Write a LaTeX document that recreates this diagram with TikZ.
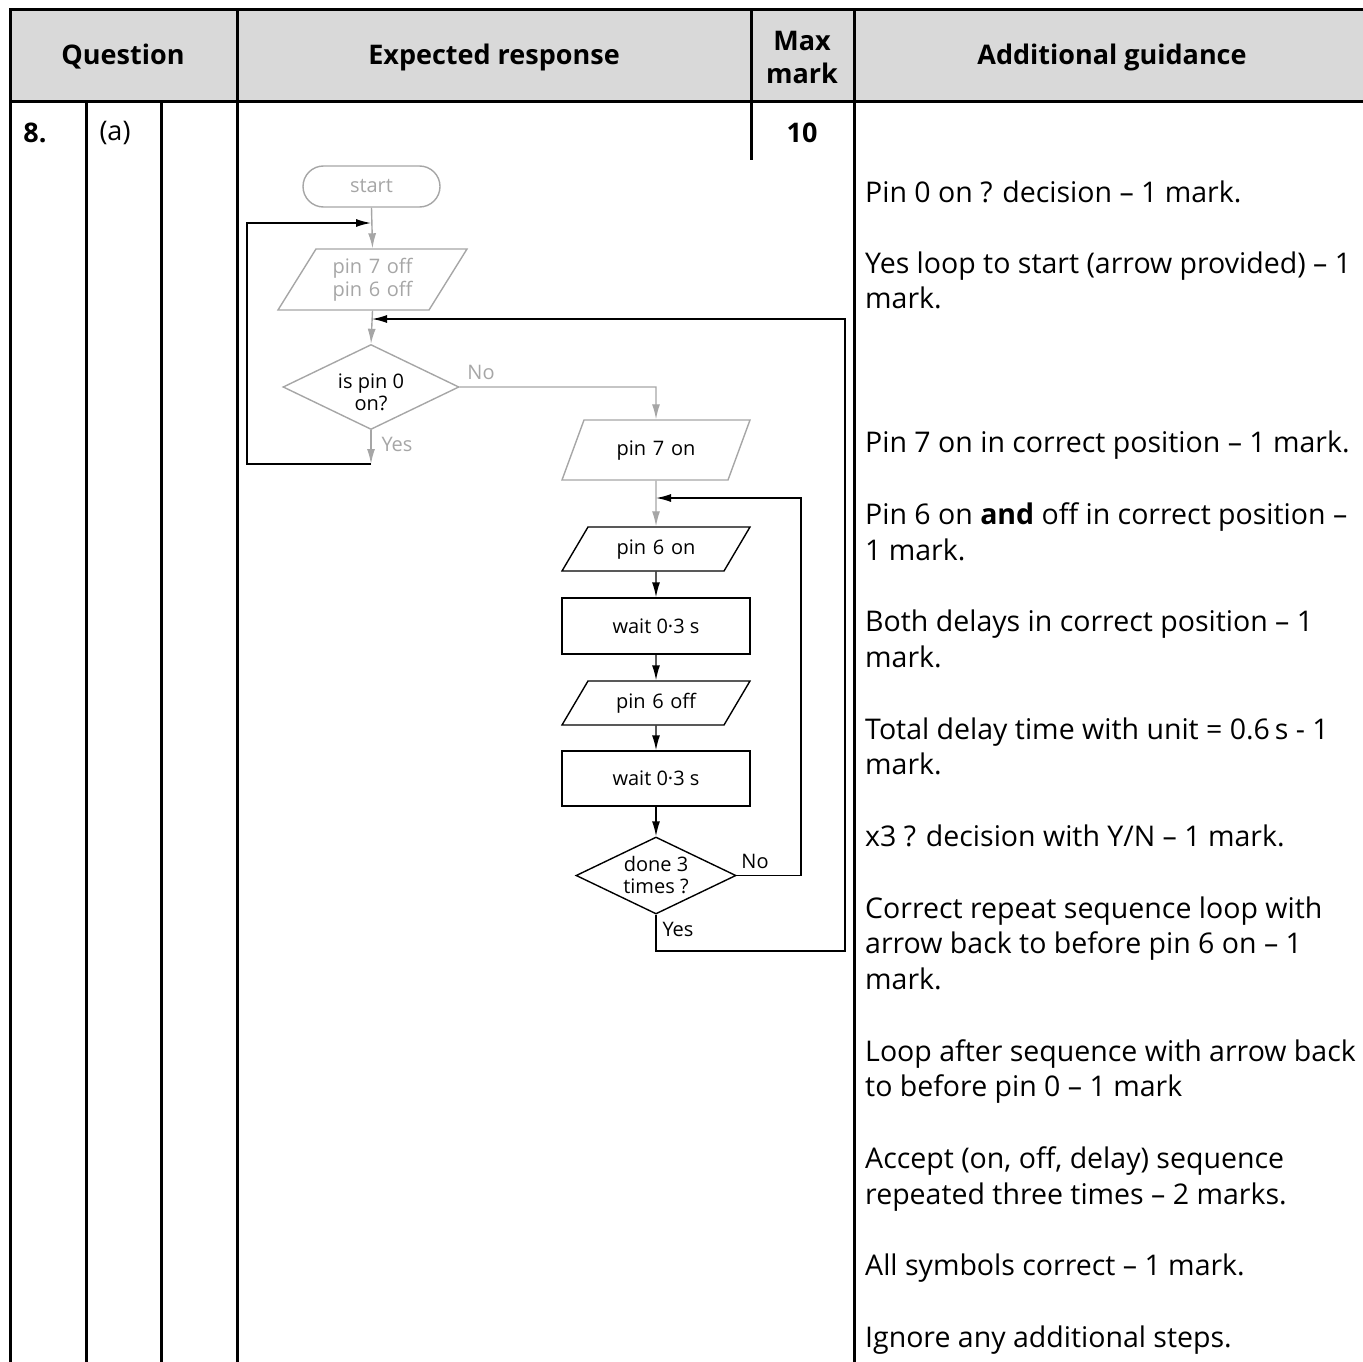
\documentclass[tikz,border=0pt]{standalone}
\usepackage{fontspec}
\setmainfont{Open Sans}
\usetikzlibrary{shapes.geometric,arrows.meta}
\definecolor{hdr}{HTML}{D9D9D9}
\definecolor{fg}{HTML}{A6A6A6}
\begin{document}
\begin{tikzpicture}[x=1pt,y=-1pt,
  tbl/.style={line width=3pt},
  hfont/.style={font=\fontsize{27}{31}\selectfont\bfseries},
  gfont/.style={font=\fontsize{28.5}{33}\selectfont},
  gline/.style={anchor=base west, inner sep=0pt, gfont},
  fcfont/.style={font=\fontsize{20}{22}\selectfont},
  grey/.style={draw=fg, line width=1.4pt},
  blk/.style={draw=black, line width=1.4pt},
  garrow/.style={grey, -{Latex[length=15pt,width=8pt]}},
  barrow/.style={blk, -{Latex[length=15pt,width=8pt]}},
  para/.style={trapezium, inner xsep=0pt, fcfont, align=center, text height=14pt, text depth=4pt},
  dia/.style={diamond, aspect=2.2, inner sep=0pt, fcfont, align=center},
  box/.style={rectangle, inner sep=0pt, fcfont, align=center},
  lbl/.style={inner sep=0pt, fcfont}
]
\useasboundingbox (0,0) rectangle (1363,1362);
% table
\fill[hdr] (10,10) rectangle (1363,102);
\draw[tbl] (10,10) -- (1363,10);
\draw[tbl] (10,102) -- (1363,102);
\draw[tbl] (10,8.5) -- (10,1362);
\draw[tbl] (86,102) -- (86,1362);
\draw[tbl] (161,102) -- (161,1362);
\draw[tbl] (237,8.5) -- (237,1362);
\draw[tbl] (751,8.5) -- (751,160);
\draw[tbl] (854,8.5) -- (854,1362);
\node[hfont] (hq) at (123,57) {Question};
\node[hfont] (he) at (494,57) {Expected response};
\node[hfont, align=center, font=\fontsize{27}{33}\selectfont\bfseries] (hm) at (802,57) {Max\\mark};
\node[hfont] (hg) at (1112,57) {Additional guidance};
\node[hfont] (q8) at (35,133) {8.};
\node[gfont, font=\fontsize{27}{31}\selectfont] (qa) at (115,133) {(a)};
\node[hfont] (mk) at (802,133) {10};
% guidance
\node[gline] (g1) at (865,202) {Pin 0 on ? decision – 1 mark.};
\node[gline] (g2) at (865,273) {Yes loop to start (arrow provided) – 1};
\node[gline] (g3) at (865,308) {mark.};
\node[gline] (g4) at (865,452) {Pin 7 on in correct position – 1 mark.};
\node[gline] (g5) at (865,524) {Pin 6 on \textbf{and} off in correct position –};
\node[gline] (g6) at (865,560) {1 mark.};
\node[gline] (g7) at (865,631) {Both delays in correct position – 1};
\node[gline] (g8) at (865,667) {mark.};
\node[gline] (g9) at (865,739) {Total delay time with unit = 0.6\,s - 1};
\node[gline] (g10) at (865,774) {mark.};
\node[gline] (g11) at (865,846) {x3 ? decision with Y/N – 1 mark.};
\node[gline] (g12) at (865,918) {Correct repeat sequence loop with};
\node[gline] (g13) at (865,953) {arrow back to before pin 6 on – 1};
\node[gline] (g14) at (865,989) {mark.};
\node[gline] (g15) at (865,1061) {Loop after sequence with arrow back};
\node[gline] (g16) at (865,1096) {to before pin 0 – 1 mark};
\node[gline] (g17) at (865,1168) {Accept (on, off, delay) sequence};
\node[gline] (g18) at (865,1204) {repeated three times – 2 marks.};
\node[gline] (g19) at (865,1275) {All symbols correct – 1 mark.};
\node[gline] (g20) at (865,1347) {Ignore any additional steps.};
% flowchart nodes
\node[box, grey, rounded corners=20.5pt, minimum width=137pt, minimum height=41pt, text=fg] (st) at (371.5,186.5) {start};
\node[para, grey, text=fg, trapezium left angle=58.08, trapezium right angle=121.92, text width=113pt, text depth=27pt, inner ysep=10pt, font=\fontsize{20}{23}\selectfont] (p7off) at (372.5,279.5) {pin 7 off\\pin 6 off};
\node[dia, grey, minimum width=176pt, minimum height=85pt, text height=47pt, text depth=0pt] (d0) at (371,387) {is pin 0\\on?};
\node[para, grey, trapezium left angle=69.86, trapezium right angle=110.14, text width=144pt, inner ysep=21pt] (p7on) at (656,450) {pin 7 on};
\node[para, blk, trapezium left angle=59.42, trapezium right angle=120.58, text width=136pt, inner ysep=13pt] (p6on) at (656,549) {pin 6 on};
\node[box, blk, minimum width=188pt, minimum height=56pt] (w1) at (656,626) {wait 0·3 s};
\node[para, blk, trapezium left angle=59.42, trapezium right angle=120.58, text width=136pt, inner ysep=13pt] (p6off) at (656,703) {pin 6 off};
\node[box, blk, minimum width=188pt, minimum height=55pt] (w2) at (656,778.5) {wait 0·3 s};
\node[dia, blk, minimum width=160pt, minimum height=77pt] (d3) at (656,875.5) {done 3\\times ?};
% labels
\node[lbl, text=fg] (no1) at (481,372) {No};
\node[lbl, text=fg] (yes1) at (397,444) {Yes};
\node[lbl] (no2) at (755,861) {No};
\node[lbl] (yes2) at (678,929) {Yes};
% junction coordinates
\coordinate (jA) at (371,223);
\coordinate (jB) at (371,464);
\coordinate (jC) at (372,319);
\coordinate (jD) at (656,498);
\coordinate (cNo1) at (656,387);
\coordinate (cL1) at (247,464);
\coordinate (cL2) at (247,223);
\coordinate (cR1) at (801,875.5);
\coordinate (cR2) at (801,498);
\coordinate (cY1) at (656,951);
\coordinate (cY2) at (845,951);
\coordinate (cY3) at (845,319);
% connectors
\draw[garrow] (st.south) -- (p7off.north);
\draw[garrow] (p7off.south) -- (d0.north);
\draw[garrow] (d0.east) -- (cNo1) -- (p7on.north);
\draw[garrow] (d0.south) -- (jB);
\draw[barrow] (jB) -- (cL1) -- (cL2) -- (jA);
\draw[garrow] (p7on.south) -- (p6on.north);
\draw[barrow] (p6on.south) -- (w1.north);
\draw[barrow] (w1.south) -- (p6off.north);
\draw[barrow] (p6off.south) -- (w2.north);
\draw[barrow] (w2.south) -- (d3.north);
\draw[barrow] (d3.east) -- (cR1) -- (cR2) -- (jD);
\draw[barrow] (d3.south) -- (cY1) -- (cY2) -- (cY3) -- (jC);
\end{tikzpicture}
\end{document}
